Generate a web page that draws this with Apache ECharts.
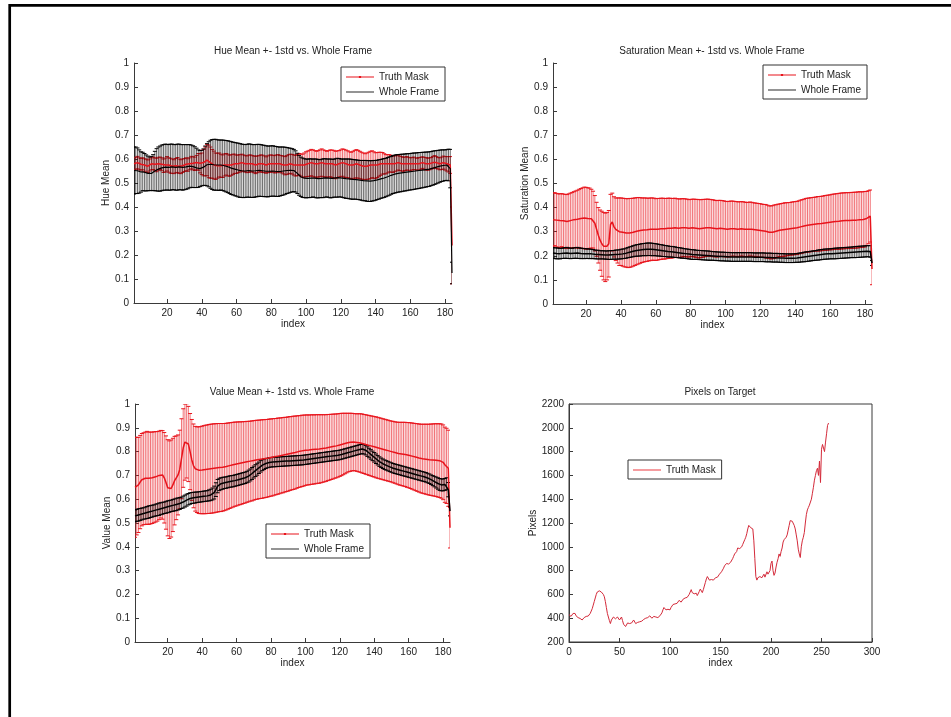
<!DOCTYPE html>
<html style="height: 100%">
<head>
    <meta charset="utf-8">
    <script src="https://cdn.jsdelivr.net/npm/echarts@6/dist/echarts.min.js"></script>
</head>
<body style="height: 100%; margin: 0; background: #fff">
    <div id="main" style="width: 951px; height: 717px"></div>
    <script type="text/javascript">
        // index ticks shared by the three error-bar plots
        var indexTicks = [20, 40, 60, 80, 100, 120, 140, 160, 180];

        // Hue: truth mask mean / std, whole frame mean / std (index 1..184)
        var hueTruthMean = [
            0.580,0.582,0.585,0.580,0.578,0.580,0.575,0.572,0.570,0.575,
            0.580,0.582,0.578,0.575,0.580,0.582,0.578,0.572,0.575,0.580,
            0.575,0.572,0.570,0.568,0.572,0.575,0.570,0.568,0.572,0.575,
            0.578,0.575,0.580,0.585,0.582,0.580,0.585,0.588,0.582,0.580,
            0.585,0.590,0.595,0.590,0.585,0.580,0.575,0.570,0.572,0.575,
            0.572,0.570,0.575,0.578,0.575,0.572,0.575,0.578,0.580,0.578,
            0.580,0.582,0.585,0.582,0.580,0.578,0.580,0.582,0.580,0.578,
            0.575,0.578,0.580,0.582,0.580,0.578,0.575,0.578,0.580,0.582,
            0.580,0.578,0.580,0.582,0.580,0.578,0.575,0.572,0.575,0.578,
            0.580,0.578,0.575,0.572,0.575,0.578,0.575,0.572,0.575,0.578,
            0.580,0.582,0.585,0.582,0.580,0.578,0.580,0.582,0.585,0.582,
            0.580,0.578,0.580,0.582,0.580,0.578,0.575,0.578,0.580,0.582,
            0.585,0.582,0.580,0.578,0.575,0.572,0.575,0.578,0.580,0.578,
            0.575,0.572,0.570,0.568,0.570,0.572,0.575,0.578,0.575,0.572,
            0.575,0.578,0.580,0.582,0.580,0.578,0.580,0.582,0.580,0.578,
            0.580,0.582,0.585,0.582,0.580,0.578,0.580,0.582,0.580,0.578,
            0.580,0.582,0.580,0.578,0.580,0.582,0.585,0.582,0.580,0.578,
            0.580,0.582,0.585,0.588,0.585,0.582,0.580,0.582,0.585,0.582,
            0.580,0.578,0.575,0.240
        ];
        var hueTruthStd = [
            0.025,0.025,0.026,0.025,0.024,0.025,0.026,0.027,0.026,0.025,
            0.025,0.026,0.027,0.028,0.027,0.026,0.027,0.028,0.029,0.030,
            0.030,0.031,0.030,0.029,0.030,0.031,0.030,0.029,0.028,0.027,
            0.027,0.026,0.025,0.026,0.027,0.028,0.030,0.035,0.040,0.045,
            0.055,0.060,0.065,0.068,0.065,0.060,0.058,0.055,0.052,0.050,
            0.048,0.047,0.046,0.045,0.045,0.044,0.043,0.042,0.040,0.038,
            0.037,0.036,0.035,0.035,0.034,0.035,0.036,0.035,0.034,0.035,
            0.036,0.035,0.034,0.035,0.036,0.035,0.034,0.035,0.036,0.035,
            0.035,0.036,0.037,0.036,0.035,0.036,0.037,0.038,0.039,0.040,
            0.040,0.041,0.042,0.043,0.044,0.045,0.046,0.048,0.050,0.052,
            0.053,0.054,0.055,0.056,0.055,0.054,0.055,0.056,0.057,0.056,
            0.055,0.054,0.055,0.056,0.057,0.058,0.057,0.056,0.055,0.056,
            0.057,0.058,0.057,0.056,0.055,0.056,0.057,0.058,0.059,0.058,
            0.057,0.056,0.055,0.054,0.055,0.056,0.057,0.056,0.055,0.054,
            0.052,0.050,0.048,0.045,0.042,0.040,0.038,0.036,0.035,0.034,
            0.033,0.032,0.031,0.030,0.030,0.029,0.028,0.028,0.027,0.027,
            0.026,0.026,0.025,0.025,0.026,0.025,0.024,0.025,0.026,0.025,
            0.025,0.024,0.025,0.026,0.025,0.024,0.025,0.026,0.027,0.028,
            0.030,0.032,0.035,0.160
        ];
        var hueFrameMean = [
            0.552,0.553,0.551,0.548,0.546,0.548,0.545,0.542,0.540,0.538,
            0.540,0.543,0.550,0.555,0.558,0.560,0.563,0.565,0.566,0.566,
            0.565,0.566,0.567,0.566,0.565,0.566,0.567,0.566,0.565,0.566,
            0.567,0.568,0.570,0.570,0.568,0.566,0.563,0.560,0.560,0.562,
            0.566,0.572,0.576,0.578,0.578,0.577,0.576,0.576,0.575,0.574,
            0.575,0.574,0.572,0.570,0.568,0.565,0.562,0.560,0.558,0.556,
            0.554,0.552,0.551,0.550,0.550,0.551,0.552,0.551,0.550,0.550,
            0.551,0.552,0.553,0.552,0.551,0.550,0.549,0.548,0.549,0.550,
            0.550,0.549,0.548,0.547,0.548,0.549,0.550,0.551,0.552,0.552,
            0.553,0.553,0.552,0.548,0.540,0.532,0.526,0.522,0.520,0.519,
            0.519,0.520,0.520,0.521,0.520,0.519,0.518,0.518,0.519,0.520,
            0.521,0.521,0.520,0.519,0.519,0.520,0.521,0.522,0.522,0.521,
            0.520,0.519,0.518,0.518,0.517,0.516,0.515,0.515,0.514,0.513,
            0.512,0.511,0.510,0.510,0.509,0.508,0.508,0.509,0.510,0.511,
            0.513,0.515,0.517,0.519,0.521,0.523,0.526,0.529,0.532,0.535,
            0.537,0.539,0.540,0.541,0.542,0.543,0.544,0.545,0.546,0.547,
            0.548,0.549,0.550,0.551,0.552,0.553,0.554,0.555,0.556,0.557,
            0.558,0.560,0.562,0.564,0.566,0.568,0.570,0.572,0.573,0.574,
            0.575,0.575,0.560,0.125
        ];
        var hueFrameStd = [
            0.098,0.097,0.095,0.090,0.084,0.080,0.078,0.075,0.072,0.070,
            0.071,0.075,0.082,0.088,0.092,0.094,0.095,0.095,0.096,0.095,
            0.095,0.096,0.095,0.094,0.095,0.096,0.095,0.094,0.095,0.094,
            0.093,0.092,0.090,0.088,0.087,0.085,0.082,0.078,0.075,0.074,
            0.076,0.082,0.088,0.094,0.100,0.104,0.106,0.106,0.105,0.105,
            0.104,0.105,0.106,0.107,0.108,0.109,0.110,0.110,0.111,0.111,
            0.112,0.112,0.111,0.111,0.110,0.110,0.111,0.111,0.110,0.110,
            0.109,0.109,0.108,0.108,0.107,0.107,0.106,0.106,0.105,0.105,
            0.105,0.104,0.104,0.103,0.102,0.101,0.100,0.098,0.096,0.094,
            0.092,0.090,0.088,0.086,0.084,0.083,0.082,0.082,0.081,0.081,
            0.080,0.081,0.080,0.079,0.080,0.081,0.080,0.079,0.080,0.081,
            0.080,0.079,0.080,0.081,0.080,0.079,0.080,0.081,0.080,0.079,
            0.080,0.081,0.082,0.082,0.083,0.083,0.083,0.082,0.082,0.082,
            0.082,0.083,0.084,0.084,0.085,0.085,0.085,0.084,0.084,0.083,
            0.082,0.082,0.081,0.081,0.081,0.080,0.080,0.080,0.079,0.079,
            0.079,0.079,0.078,0.078,0.078,0.077,0.077,0.077,0.076,0.076,
            0.076,0.076,0.075,0.075,0.075,0.074,0.074,0.073,0.073,0.072,
            0.072,0.071,0.071,0.070,0.069,0.068,0.067,0.066,0.065,0.064,
            0.064,0.066,0.080,0.045
        ];

        // Saturation
        var satTruthMean = [
            0.350,0.352,0.348,0.345,0.346,0.348,0.345,0.343,0.342,0.344,
            0.346,0.348,0.350,0.351,0.352,0.354,0.355,0.356,0.357,0.356,
            0.355,0.356,0.354,0.350,0.335,0.310,0.285,0.265,0.250,0.240,
            0.235,0.240,0.250,0.330,0.340,0.320,0.310,0.305,0.300,0.300,
            0.298,0.296,0.295,0.294,0.295,0.296,0.298,0.300,0.302,0.304,
            0.305,0.306,0.307,0.308,0.308,0.309,0.310,0.311,0.310,0.309,
            0.310,0.311,0.312,0.313,0.312,0.313,0.314,0.315,0.314,0.315,
            0.316,0.315,0.314,0.315,0.316,0.317,0.316,0.315,0.314,0.315,
            0.316,0.315,0.314,0.313,0.312,0.313,0.314,0.315,0.316,0.317,
            0.316,0.315,0.314,0.313,0.312,0.313,0.314,0.313,0.312,0.311,
            0.310,0.311,0.312,0.313,0.312,0.311,0.310,0.311,0.312,0.311,
            0.310,0.309,0.310,0.311,0.310,0.309,0.308,0.307,0.306,0.305,
            0.304,0.303,0.302,0.300,0.298,0.297,0.298,0.300,0.302,0.304,
            0.306,0.307,0.308,0.309,0.310,0.311,0.312,0.313,0.314,0.315,
            0.316,0.318,0.320,0.322,0.324,0.326,0.327,0.328,0.329,0.330,
            0.331,0.332,0.333,0.333,0.334,0.335,0.336,0.337,0.338,0.339,
            0.340,0.341,0.342,0.343,0.343,0.344,0.345,0.345,0.346,0.346,
            0.346,0.347,0.347,0.348,0.348,0.349,0.350,0.350,0.351,0.352,
            0.355,0.360,0.365,0.145
        ];
        var satTruthStd = [
            0.110,0.110,0.111,0.112,0.111,0.110,0.111,0.112,0.112,0.113,
            0.114,0.115,0.116,0.118,0.120,0.122,0.124,0.126,0.128,0.128,
            0.127,0.125,0.122,0.118,0.115,0.112,0.115,0.125,0.135,0.140,
            0.142,0.140,0.138,0.125,0.120,0.125,0.130,0.135,0.140,0.140,
            0.141,0.142,0.142,0.143,0.143,0.142,0.141,0.140,0.139,0.138,
            0.136,0.134,0.133,0.132,0.131,0.130,0.130,0.129,0.129,0.128,
            0.128,0.127,0.127,0.126,0.126,0.125,0.125,0.124,0.124,0.123,
            0.123,0.122,0.122,0.121,0.121,0.120,0.120,0.120,0.119,0.119,
            0.119,0.120,0.120,0.121,0.121,0.120,0.120,0.119,0.119,0.118,
            0.118,0.118,0.118,0.117,0.117,0.117,0.116,0.116,0.116,0.115,
            0.115,0.115,0.115,0.114,0.114,0.114,0.114,0.113,0.113,0.113,
            0.113,0.112,0.112,0.112,0.112,0.111,0.111,0.111,0.111,0.111,
            0.110,0.110,0.111,0.110,0.109,0.110,0.110,0.111,0.110,0.110,
            0.109,0.110,0.110,0.111,0.110,0.110,0.109,0.110,0.110,0.110,
            0.110,0.110,0.111,0.111,0.111,0.112,0.112,0.112,0.112,0.112,
            0.112,0.112,0.113,0.113,0.113,0.113,0.114,0.114,0.114,0.114,
            0.115,0.115,0.115,0.115,0.116,0.116,0.116,0.116,0.116,0.116,
            0.116,0.116,0.116,0.116,0.116,0.116,0.116,0.115,0.115,0.115,
            0.112,0.110,0.108,0.065
        ];
        var satFrameMean = [
            0.212,0.211,0.210,0.210,0.209,0.210,0.211,0.212,0.212,0.211,
            0.210,0.210,0.211,0.212,0.212,0.211,0.210,0.210,0.209,0.209,
            0.209,0.208,0.208,0.207,0.206,0.205,0.205,0.204,0.204,0.204,
            0.203,0.203,0.203,0.203,0.204,0.204,0.205,0.205,0.206,0.207,
            0.208,0.209,0.211,0.213,0.215,0.217,0.219,0.221,0.222,0.223,
            0.224,0.225,0.226,0.226,0.227,0.227,0.227,0.226,0.226,0.225,
            0.224,0.223,0.222,0.221,0.220,0.219,0.218,0.217,0.217,0.216,
            0.215,0.214,0.213,0.212,0.211,0.210,0.209,0.208,0.207,0.206,
            0.205,0.205,0.204,0.204,0.203,0.203,0.202,0.202,0.201,0.201,
            0.200,0.200,0.199,0.199,0.198,0.198,0.197,0.197,0.197,0.196,
            0.196,0.196,0.195,0.195,0.195,0.195,0.195,0.195,0.195,0.195,
            0.195,0.195,0.195,0.195,0.195,0.194,0.194,0.194,0.194,0.194,
            0.194,0.194,0.193,0.193,0.193,0.193,0.192,0.192,0.192,0.192,
            0.191,0.191,0.191,0.190,0.190,0.190,0.190,0.190,0.190,0.191,
            0.191,0.192,0.193,0.194,0.195,0.196,0.197,0.198,0.199,0.200,
            0.201,0.202,0.203,0.204,0.205,0.206,0.207,0.207,0.208,0.208,
            0.209,0.209,0.210,0.210,0.211,0.211,0.212,0.212,0.213,0.213,
            0.214,0.214,0.215,0.215,0.216,0.216,0.217,0.217,0.218,0.218,
            0.219,0.219,0.218,0.170
        ];
        var satFrameStd = [
            0.022,0.022,0.023,0.022,0.022,0.021,0.022,0.022,0.023,0.022,
            0.022,0.021,0.022,0.022,0.023,0.022,0.022,0.021,0.021,0.020,
            0.020,0.020,0.019,0.019,0.018,0.018,0.018,0.017,0.017,0.017,
            0.017,0.017,0.018,0.018,0.018,0.018,0.019,0.019,0.019,0.020,
            0.020,0.020,0.021,0.021,0.022,0.022,0.023,0.023,0.024,0.024,
            0.025,0.025,0.025,0.026,0.026,0.026,0.026,0.026,0.025,0.025,
            0.025,0.024,0.024,0.024,0.023,0.023,0.023,0.022,0.022,0.022,
            0.022,0.021,0.021,0.021,0.021,0.020,0.020,0.020,0.020,0.020,
            0.020,0.020,0.019,0.019,0.019,0.019,0.019,0.019,0.019,0.019,
            0.019,0.018,0.018,0.018,0.018,0.018,0.018,0.018,0.018,0.018,
            0.018,0.018,0.018,0.018,0.018,0.018,0.018,0.018,0.018,0.018,
            0.018,0.018,0.018,0.018,0.018,0.018,0.018,0.018,0.018,0.018,
            0.018,0.018,0.018,0.018,0.018,0.018,0.018,0.018,0.018,0.018,
            0.018,0.018,0.018,0.018,0.018,0.018,0.018,0.018,0.018,0.018,
            0.018,0.019,0.019,0.019,0.020,0.020,0.020,0.020,0.020,0.020,
            0.020,0.020,0.021,0.021,0.021,0.021,0.021,0.021,0.021,0.021,
            0.021,0.022,0.022,0.022,0.022,0.022,0.022,0.022,0.022,0.022,
            0.022,0.022,0.022,0.023,0.023,0.023,0.023,0.023,0.023,0.023,
            0.023,0.023,0.024,0.010
        ];

        // Value
        var valTruthMean = [
            0.650,0.655,0.660,0.672,0.682,0.686,0.688,0.690,0.688,0.689,
            0.690,0.692,0.694,0.696,0.700,0.705,0.702,0.690,0.670,0.648,
            0.640,0.645,0.660,0.678,0.690,0.702,0.725,0.770,0.815,0.840,
            0.845,0.832,0.800,0.765,0.740,0.728,0.724,0.722,0.722,0.723,
            0.724,0.725,0.726,0.727,0.728,0.729,0.730,0.731,0.732,0.733,
            0.733,0.734,0.735,0.737,0.739,0.741,0.743,0.745,0.747,0.748,
            0.750,0.751,0.752,0.754,0.755,0.757,0.758,0.760,0.761,0.763,
            0.765,0.766,0.767,0.768,0.769,0.770,0.771,0.772,0.774,0.775,
            0.776,0.778,0.779,0.781,0.782,0.784,0.785,0.787,0.788,0.790,
            0.792,0.793,0.795,0.796,0.798,0.800,0.801,0.803,0.804,0.806,
            0.807,0.807,0.808,0.809,0.809,0.810,0.811,0.811,0.812,0.813,
            0.814,0.815,0.817,0.818,0.820,0.821,0.823,0.824,0.826,0.828,
            0.830,0.832,0.834,0.836,0.838,0.839,0.840,0.840,0.839,0.838,
            0.837,0.836,0.834,0.832,0.830,0.828,0.826,0.824,0.822,0.820,
            0.818,0.816,0.814,0.812,0.810,0.808,0.806,0.804,0.802,0.800,
            0.798,0.796,0.794,0.792,0.791,0.790,0.789,0.788,0.786,0.785,
            0.783,0.781,0.779,0.777,0.775,0.773,0.771,0.770,0.769,0.768,
            0.767,0.766,0.766,0.765,0.765,0.764,0.763,0.762,0.760,0.755,
            0.745,0.740,0.730,0.480
        ];
        var valTruthStd = [
            0.210,0.205,0.200,0.196,0.194,0.193,0.194,0.195,0.194,0.193,
            0.192,0.191,0.190,0.188,0.186,0.184,0.186,0.190,0.196,0.202,
            0.205,0.204,0.196,0.186,0.176,0.168,0.165,0.168,0.165,0.160,
            0.156,0.158,0.160,0.170,0.176,0.178,0.180,0.182,0.183,0.184,
            0.185,0.186,0.186,0.187,0.187,0.187,0.187,0.186,0.186,0.185,
            0.185,0.184,0.183,0.182,0.181,0.180,0.179,0.178,0.177,0.176,
            0.175,0.174,0.173,0.172,0.171,0.170,0.169,0.168,0.168,0.167,
            0.166,0.166,0.165,0.165,0.165,0.164,0.164,0.163,0.163,0.162,
            0.162,0.161,0.160,0.160,0.159,0.158,0.158,0.157,0.156,0.156,
            0.155,0.154,0.154,0.153,0.152,0.151,0.150,0.150,0.149,0.148,
            0.147,0.147,0.146,0.146,0.145,0.145,0.144,0.144,0.143,0.142,
            0.141,0.140,0.139,0.138,0.137,0.136,0.135,0.134,0.133,0.132,
            0.131,0.129,0.127,0.125,0.123,0.122,0.121,0.120,0.120,0.121,
            0.122,0.123,0.124,0.124,0.125,0.125,0.126,0.126,0.127,0.127,
            0.128,0.128,0.128,0.128,0.128,0.128,0.128,0.128,0.128,0.128,
            0.129,0.129,0.130,0.131,0.132,0.133,0.134,0.135,0.136,0.137,
            0.138,0.139,0.140,0.141,0.142,0.143,0.144,0.145,0.146,0.147,
            0.148,0.149,0.150,0.151,0.152,0.153,0.154,0.155,0.156,0.157,
            0.158,0.158,0.160,0.085
        ];
        var valFrameMean = [
            0.530,0.532,0.534,0.536,0.538,0.540,0.542,0.544,0.546,0.548,
            0.550,0.552,0.554,0.556,0.558,0.560,0.562,0.564,0.566,0.568,
            0.570,0.572,0.574,0.576,0.578,0.580,0.582,0.585,0.588,0.592,
            0.596,0.600,0.603,0.605,0.606,0.607,0.608,0.609,0.610,0.611,
            0.612,0.613,0.614,0.616,0.618,0.622,0.628,0.640,0.655,0.662,
            0.665,0.667,0.669,0.670,0.672,0.674,0.675,0.676,0.678,0.680,
            0.682,0.684,0.686,0.688,0.690,0.693,0.697,0.702,0.708,0.714,
            0.720,0.726,0.732,0.738,0.743,0.747,0.750,0.752,0.754,0.755,
            0.756,0.756,0.757,0.757,0.758,0.758,0.759,0.759,0.760,0.760,
            0.761,0.761,0.762,0.762,0.763,0.763,0.764,0.764,0.765,0.766,
            0.767,0.768,0.769,0.770,0.771,0.772,0.773,0.774,0.775,0.776,
            0.777,0.778,0.779,0.780,0.781,0.782,0.783,0.784,0.785,0.786,
            0.788,0.790,0.792,0.794,0.796,0.798,0.800,0.802,0.804,0.806,
            0.808,0.810,0.811,0.810,0.806,0.800,0.794,0.788,0.782,0.776,
            0.770,0.764,0.758,0.753,0.749,0.745,0.742,0.739,0.736,0.733,
            0.730,0.728,0.726,0.724,0.722,0.720,0.718,0.716,0.714,0.712,
            0.710,0.708,0.706,0.704,0.702,0.700,0.698,0.696,0.694,0.692,
            0.689,0.686,0.682,0.678,0.674,0.670,0.666,0.662,0.660,0.660,
            0.662,0.665,0.640,0.550
        ];
        var valFrameStd = [
            0.025,0.025,0.026,0.025,0.025,0.024,0.025,0.025,0.026,0.025,
            0.025,0.024,0.025,0.025,0.026,0.025,0.025,0.024,0.025,0.025,
            0.025,0.024,0.025,0.025,0.026,0.025,0.025,0.024,0.025,0.025,
            0.025,0.024,0.024,0.023,0.023,0.023,0.022,0.022,0.022,0.022,
            0.022,0.022,0.022,0.023,0.024,0.025,0.027,0.029,0.028,0.026,
            0.025,0.025,0.024,0.024,0.024,0.024,0.024,0.024,0.024,0.024,
            0.024,0.024,0.024,0.024,0.024,0.024,0.025,0.025,0.025,0.025,
            0.025,0.025,0.024,0.024,0.023,0.022,0.021,0.020,0.020,0.020,
            0.020,0.020,0.020,0.020,0.020,0.020,0.020,0.020,0.020,0.020,
            0.020,0.020,0.020,0.020,0.020,0.020,0.020,0.020,0.020,0.020,
            0.020,0.020,0.020,0.020,0.020,0.020,0.020,0.020,0.020,0.020,
            0.020,0.020,0.020,0.020,0.020,0.020,0.020,0.020,0.020,0.020,
            0.020,0.020,0.020,0.020,0.020,0.020,0.020,0.020,0.020,0.020,
            0.020,0.020,0.020,0.020,0.020,0.020,0.020,0.020,0.020,0.020,
            0.020,0.020,0.020,0.020,0.020,0.020,0.020,0.020,0.020,0.020,
            0.020,0.020,0.020,0.020,0.020,0.020,0.020,0.020,0.020,0.020,
            0.020,0.020,0.020,0.020,0.020,0.020,0.020,0.020,0.020,0.020,
            0.020,0.020,0.020,0.021,0.022,0.023,0.024,0.025,0.025,0.025,
            0.025,0.025,0.030,0.020
        ];

        // Pixels on target, index 0..257
        var pixelCounts = [
            430,425,415,420,440,455,440,420,410,405,
            400,398,395,385,395,405,410,415,420,418,
            425,440,460,480,510,540,570,600,620,628,
            630,625,620,615,600,580,540,490,440,410,
            380,355,385,400,410,405,395,400,410,400,
            385,395,410,380,350,340,330,345,360,370,
            355,345,360,375,385,370,355,345,365,380,
            370,360,375,385,390,395,400,410,405,415,
            420,410,400,405,415,425,410,400,405,410,
            420,430,445,470,490,480,470,465,475,485,
            470,490,505,515,500,520,530,525,540,550,
            545,535,550,560,555,570,580,575,590,600,
            610,640,615,600,605,620,610,590,600,625,
            645,630,615,640,670,700,730,750,745,720,
            710,725,715,720,730,740,735,745,760,770,
            780,790,800,820,840,850,860,870,855,865,
            870,880,900,920,940,930,960,990,1000,985,
            975,1000,1020,1040,1060,1080,1110,1150,1180,1170,
            1160,1175,1150,1050,900,750,720,740,730,750,
            760,740,750,770,745,760,790,770,780,800,
            860,880,800,760,780,830,870,900,940,920,
            960,990,1040,1060,1050,1080,1100,1140,1180,1220,
            1230,1215,1200,1180,1150,1100,1050,980,940,910,
            1000,1050,1080,1120,1200,1270,1310,1330,1350,1360,
            1400,1450,1500,1560,1600,1640,1660,1600,1720,1540,
            1820,1860,1850,1800,1880,1950,2020,2040
        ];

        var FONT = '"Liberation Sans", Arial, sans-serif';
        var RED = '#e8141c';
        var AXIS = '#3a3a3a';

        var truthIcon = 'path://M0,0M40,10M0,4.4h40v1.2h-40zM18.4,3.4h3.2v3.2h-3.2z';
        var lineIcon = 'path://M0,0M40,10M0,4.4h40v1.2h-40z';

        function errorBars(mean, std) {
            return mean.map(function (m, k) {
                return [k + 1, m - std[k], m + std[k]];
            });
        }
        function meanLine(mean) {
            return mean.map(function (m, k) { return [k + 1, m]; });
        }

        function renderErrorBar(params, api) {
            var x = api.value(0);
            var lo = api.coord([x, api.value(1)]);
            var hi = api.coord([x, api.value(2)]);
            var color = api.visual('color');
            var cap = 2;
            return {
                type: 'group',
                children: [
                    { type: 'line', shape: { x1: hi[0], y1: hi[1], x2: lo[0], y2: lo[1] },
                      style: { stroke: color, lineWidth: 0.6 } },
                    { type: 'line', shape: { x1: hi[0] - cap, y1: hi[1], x2: hi[0] + cap, y2: hi[1] },
                      style: { stroke: color, lineWidth: 1 } },
                    { type: 'line', shape: { x1: lo[0] - cap, y1: lo[1], x2: lo[0] + cap, y2: lo[1] },
                      style: { stroke: color, lineWidth: 1 } }
                ]
            };
        }

        function barSeries(name, idx, mean, std, color) {
            return {
                name: name, type: 'custom', xAxisIndex: idx, yAxisIndex: idx,
                renderItem: renderErrorBar, itemStyle: { color: color },
                encode: { x: 0, y: [1, 2] }, data: errorBars(mean, std), clip: true
            };
        }
        function lineSeries(name, idx, data, color, width) {
            return {
                name: name, type: 'line', xAxisIndex: idx, yAxisIndex: idx,
                showSymbol: false, symbol: 'none', itemStyle: { color: color },
                lineStyle: { color: color, width: width }, data: data
            };
        }

        var labelStyle = { fontFamily: FONT, fontSize: 10, color: '#222' };
        var plainNumber = function (v) { return String(v); };

        function indexAxis(idx, name) {
            return {
                gridIndex: idx, type: 'value', min: 1, max: 184,
                name: name, nameLocation: 'middle', nameGap: 16, nameTextStyle: labelStyle,
                axisLine: { lineStyle: { color: AXIS } },
                axisTick: { inside: true, length: 4, customValues: indexTicks, lineStyle: { color: AXIS } },
                axisLabel: Object.assign({ margin: 5, customValues: indexTicks }, labelStyle),
                splitLine: { show: false }
            };
        }
        function unitAxis(idx, name, gap) {
            return {
                gridIndex: idx, type: 'value', min: 0, max: 1, interval: 0.1,
                name: name, nameLocation: 'middle', nameGap: gap, nameTextStyle: labelStyle,
                axisLine: { show: true, lineStyle: { color: AXIS } },
                axisTick: { show: true, inside: true, length: 4, lineStyle: { color: AXIS } },
                axisLabel: Object.assign({ margin: 5, formatter: plainNumber }, labelStyle),
                splitLine: { show: false }
            };
        }
        function legendBox(left, top, items) {
            return {
                left: left, top: top, orient: 'vertical', selectedMode: false,
                itemWidth: 28, itemHeight: 10, itemGap: 3,
                padding: [4, 6, 3, 5], borderColor: '#333', borderWidth: 1,
                backgroundColor: '#fff',
                textStyle: { fontFamily: FONT, fontSize: 10, color: '#222', lineHeight: 12 },
                data: items
            };
        }
        function titleAt(text, x, y) {
            return {
                text: text, left: x, top: y, textAlign: 'center', padding: 0,
                textStyle: { fontFamily: FONT, fontSize: 10, fontWeight: 'normal', color: '#222' }
            };
        }

        var myChart = echarts.init(document.getElementById('main'));

        var option = {
            animation: false,
            backgroundColor: '#fff',
            graphic: [{
                type: 'rect', silent: true,
                shape: { x: 9.7, y: 5.3, width: 1200, height: 900 },
                style: { fill: null, stroke: '#000', lineWidth: 2.7 }
            }],
            title: [
                titleAt('Hue Mean +- 1std vs. Whole Frame', 293, 46),
                titleAt('Saturation Mean +- 1std vs. Whole Frame', 712, 46),
                titleAt('Value Mean +- 1std vs. Whole Frame', 292, 387),
                titleAt('Pixels on Target', 720, 387)
            ],
            legend: [
                legendBox(341, 67, [{ name: 'Truth Mask', icon: truthIcon }, { name: 'Whole Frame', icon: lineIcon }]),
                legendBox(763, 65, [{ name: 'Truth Mask', icon: truthIcon }, { name: 'Whole Frame', icon: lineIcon }]),
                legendBox(266, 524, [{ name: 'Truth Mask', icon: truthIcon }, { name: 'Whole Frame', icon: lineIcon }]),
                legendBox(628, 460, [{ name: 'Truth Mask', icon: lineIcon }])
            ],
            grid: [
                { left: 134, top: 63, width: 318, height: 240 },
                { left: 553, top: 63, width: 319, height: 241 },
                { left: 135, top: 404, width: 315, height: 238 },
                { left: 569, top: 404, width: 303, height: 238, show: true, borderColor: AXIS, borderWidth: 1 }
            ],
            xAxis: [
                indexAxis(0, 'index'),
                indexAxis(1, 'index'),
                indexAxis(2, 'index'),
                {
                    gridIndex: 3, type: 'value', min: 0, max: 300, interval: 50,
                    name: 'index', nameLocation: 'middle', nameGap: 16, nameTextStyle: labelStyle,
                    axisLine: { lineStyle: { color: AXIS } },
                    axisTick: { inside: true, length: 4, lineStyle: { color: AXIS } },
                    axisLabel: Object.assign({ margin: 5, formatter: plainNumber }, labelStyle),
                    splitLine: { show: false }
                }
            ],
            yAxis: [
                unitAxis(0, 'Hue Mean', 23),
                unitAxis(1, 'Saturation Mean', 22),
                unitAxis(2, 'Value Mean', 22),
                {
                    gridIndex: 3, type: 'value', min: 200, max: 2200, interval: 200,
                    name: 'Pixels', nameLocation: 'middle', nameGap: 30, nameTextStyle: labelStyle,
                    axisLine: { show: true, lineStyle: { color: AXIS } },
                    axisTick: { show: true, inside: true, length: 4, lineStyle: { color: AXIS } },
                    axisLabel: Object.assign({ margin: 5, formatter: plainNumber }, labelStyle),
                    splitLine: { show: false }
                }
            ],
            series: [
                // hue
                barSeries('Truth Mask', 0, hueTruthMean, hueTruthStd, RED),
                lineSeries('Truth Mask', 0, meanLine(hueTruthMean), RED, 1.5),
                barSeries('Whole Frame', 0, hueFrameMean, hueFrameStd, '#000'),
                lineSeries('Whole Frame', 0, meanLine(hueFrameMean), '#000', 1.2),
                // saturation
                barSeries('Truth Mask', 1, satTruthMean, satTruthStd, RED),
                lineSeries('Truth Mask', 1, meanLine(satTruthMean), RED, 1.5),
                barSeries('Whole Frame', 1, satFrameMean, satFrameStd, '#000'),
                lineSeries('Whole Frame', 1, meanLine(satFrameMean), '#000', 1.5),
                // value
                barSeries('Truth Mask', 2, valTruthMean, valTruthStd, RED),
                lineSeries('Truth Mask', 2, meanLine(valTruthMean), RED, 1.5),
                barSeries('Whole Frame', 2, valFrameMean, valFrameStd, '#000'),
                lineSeries('Whole Frame', 2, meanLine(valFrameMean), '#000', 1.5),
                // pixels on target
                lineSeries('Truth Mask', 3, pixelCounts.map(function (v, k) { return [k, v]; }), '#d42a3a', 1)
            ]
        };

        myChart.setOption(option);
    </script>
</body>
</html>
